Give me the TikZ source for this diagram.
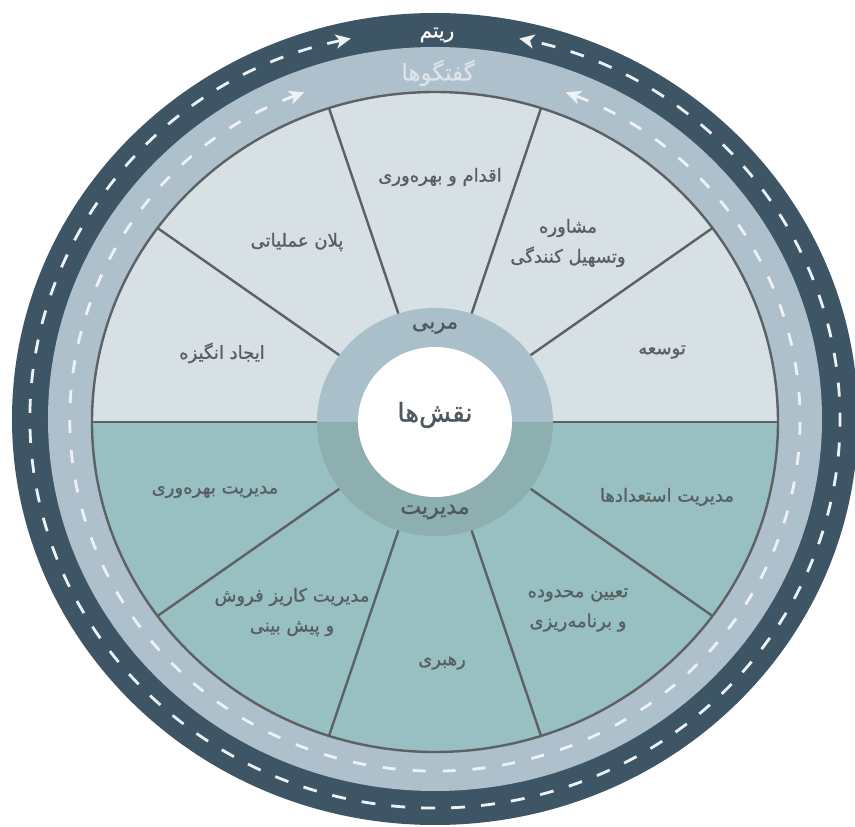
\documentclass[tikz,border=0pt]{standalone}
\usepackage{fontspec}
\usetikzlibrary{arrows.meta}
\TeXXeTstate=1
\newfontfamily\farsi[Script=Arabic,FakeBold=1]{DejaVu Sans}
\newfontfamily\farsiplain[Script=Arabic]{DejaVu Sans}
\newcommand{\fa}[1]{{\beginR #1\endR}}

\definecolor{ringdark}{HTML}{3E5566}
\definecolor{ringlight}{HTML}{AEC0CC}
\definecolor{sectortop}{HTML}{D7E0E5}
\definecolor{sectorbot}{HTML}{98C0C2}
\definecolor{hubtop}{HTML}{A9BFCA}
\definecolor{hubbot}{HTML}{8DAFB0}
\definecolor{rule}{HTML}{5D6164}
\definecolor{labeltext}{HTML}{585F63}
\definecolor{hubtext}{HTML}{4F585C}
\definecolor{lanetext}{HTML}{DCE4EA}
\definecolor{lanemark}{HTML}{EEF2F5}

\tikzset{
  spoke/.style={draw=rule, line width=2.4pt},
  lane/.style={draw=lanemark, line width=2.8pt,
    arrows={Stealth[length=15pt,width=14pt,inset=4pt]-Stealth[length=15pt,width=14pt,inset=4pt]}},
  sectorlabel/.style={text=labeltext, font={\farsi\fontsize{18}{30}\selectfont}, align=center, inner sep=0pt},
  hublabel/.style={text=hubtext, font={\farsi\fontsize{21}{24}\selectfont}, inner sep=0pt},
}

\begin{document}
\begin{tikzpicture}[x=1pt,y=1pt]
  \useasboundingbox (-435,-405) rectangle (420,422);
  \fill[white] (-435,-405) rectangle (420,422);

  % outer lanes
  \fill[ringdark] (0,3) ellipse [x radius=423, y radius=406];
  \fill[ringlight] (0,3) ellipse [x radius=387, y radius=372];

  % lane markings with arrows pointing to the lane titles
  \draw[lane, dash pattern=on 14pt off 16pt]
    ([shift={(0,3)}]102:405 and 389) arc [start angle=102, end angle=438, x radius=405, y radius=389];
  \draw[lane, dash pattern=on 13pt off 17pt]
    ([shift={(0,2)}]111:365 and 351) arc [start angle=111, end angle=429, x radius=365, y radius=351];

  % wheel halves
  \fill[sectortop] (343,0) arc [start angle=0, end angle=180, x radius=343, y radius=330] -- cycle;
  \fill[sectorbot] (-343,0) arc [start angle=180, end angle=360, x radius=343, y radius=330] -- cycle;

  % spokes
  \coordinate (hub) at (0,0);
  \foreach \a/\n in {0/e0,36/e1,72/e2,108/e3,144/e4,180/e5,216/e6,252/e7,288/e8,324/e9}
    \coordinate (\n) at (\a:343 and 330);
  \foreach \n in {e1,e2,e3,e4,e6,e7,e8,e9}
    \draw[spoke] (hub) -- (\n);
  \draw[spoke] (e5) -- (e0);
  \draw[spoke] (hub) ellipse [x radius=343, y radius=330];

  % hub
  \fill[hubtop] (118,0) arc [start angle=0, end angle=180, x radius=118, y radius=114] -- cycle;
  \fill[hubbot] (-118,0) arc [start angle=180, end angle=360, x radius=118, y radius=114] -- cycle;
  \fill[white] (hub) ellipse [x radius=77, y radius=75];

  % hub texts
  \node[hublabel] (coach) at (0,94) {\fa{مربی}};
  \node[hublabel, font={\farsi\fontsize{26}{28}\selectfont}] (roles) at (0,7) {\fa{نقش‌ها}};
  \node[hublabel, font={\farsi\fontsize{22}{24}\selectfont}] (manager) at (0,-90) {\fa{مدیریت}};

  % lane titles
  \node[text=white, font={\farsi\fontsize{20}{22}\selectfont}, inner sep=0pt] (rhythm) at (2,387) {\fa{ریتم}};
  \node[text=lanetext, font={\farsi\fontsize{23}{26}\selectfont}, inner sep=0pt] (talks) at (3,349) {\fa{گفتگوها}};

  % coach sectors
  \node[sectorlabel] (s1) at (227,70) {\fa{توسعه}};
  \node[sectorlabel] (s2) at (133,179) {\fa{مشاوره}\\\fa{وتسهیل کنندگی}};
  \node[sectorlabel] (s3) at (5,245) {\fa{اقدام و بهره‌وری}};
  \node[sectorlabel] (s4) at (-138,180) {\fa{پلان عملیاتی}};
  \node[sectorlabel] (s5) at (-213,69) {\fa{ایجاد انگیزه}};

  % manager sectors
  \node[sectorlabel] (m1) at (-220,-70) {\fa{مدیریت بهره‌وری}};
  \node[sectorlabel] (m2) at (-143,-190) {\fa{مدیریت کاریز فروش}\\\fa{و پیش بینی}};
  \node[sectorlabel] (m3) at (7,-241) {\fa{رهبری}};
  \node[sectorlabel] (m4) at (143,-188) {\fa{تعیین محدوده}\\\fa{و برنامه‌ریزی}};
  \node[sectorlabel] (m5) at (232,-75) {\fa{مدیریت استعدادها}};
\end{tikzpicture}
\end{document}
